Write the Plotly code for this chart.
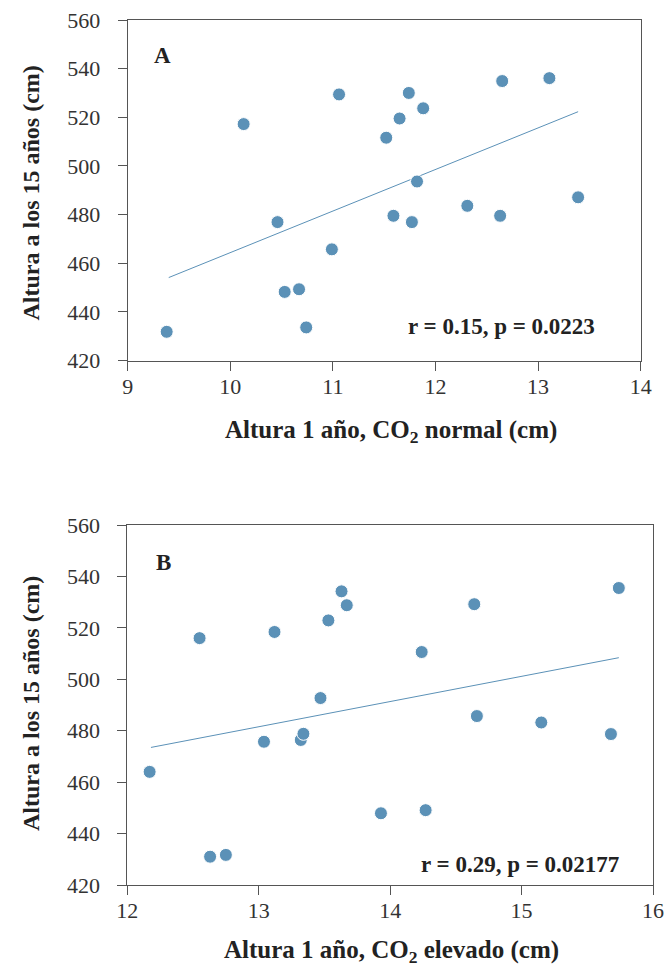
import plotly.graph_objects as go

# Panel A: CO2 normal
a_x = [9.38, 10.13, 10.46, 10.53, 10.67, 10.74, 10.99, 11.06, 11.52, 11.59,
       11.65, 11.74, 11.77, 11.82, 11.88, 12.31, 12.63, 12.65, 13.11, 13.39]
a_y = [431.8, 517.2, 476.9, 448.2, 449.3, 433.6, 465.7, 529.4, 511.6, 479.5,
       519.5, 530.0, 476.9, 493.6, 523.7, 483.6, 479.5, 534.9, 536.1, 487.1]
a_fit_x = [9.40, 13.39]
a_fit_y = [454.1, 522.3]

# Panel B: CO2 elevado
b_x = [12.17, 12.55, 12.63, 12.75, 13.04, 13.12, 13.32, 13.34, 13.47, 13.53,
       13.63, 13.67, 13.93, 14.24, 14.27, 14.64, 14.66, 15.15, 15.68, 15.74]
b_y = [464.0, 516.0, 431.0, 431.7, 475.7, 518.4, 476.4, 478.8, 492.7, 522.9,
       534.2, 528.8, 447.9, 510.6, 449.1, 529.2, 485.7, 483.2, 478.7, 535.5]
b_fit_x = [12.18, 15.74]
b_fit_y = [473.5, 508.4]

y_ticks = [420, 440, 460, 480, 500, 520, 540, 560]
a_xticks = [9, 10, 11, 12, 13, 14]
b_xticks = [12, 13, 14, 15, 16]

labels = ["A", "B"]
stats = ["r = 0.15, p = 0.0223", "r = 0.29, p = 0.02177"]
x_titles = ["Altura 1 año, CO<sub>2</sub> normal (cm)", "Altura 1 año, CO<sub>2</sub> elevado (cm)"]
y_title = "Altura a los 15 años (cm)"

W, H = 670, 968
dot = "#5b91b7"
axc = "#555555"
serif = "Liberation Serif, Times New Roman, serif"

fig = go.Figure()
fig.add_trace(go.Scatter(x=a_fit_x, y=a_fit_y, mode="lines", line=dict(color=dot, width=1),
                         xaxis="x", yaxis="y", showlegend=False, hoverinfo="skip"))
fig.add_trace(go.Scatter(x=a_x, y=a_y, mode="markers",
                         marker=dict(color=dot, size=13, line=dict(color="white", width=1)),
                         xaxis="x", yaxis="y", showlegend=False))
fig.add_trace(go.Scatter(x=b_fit_x, y=b_fit_y, mode="lines", line=dict(color=dot, width=1),
                         xaxis="x2", yaxis="y2", showlegend=False, hoverinfo="skip"))
fig.add_trace(go.Scatter(x=b_x, y=b_y, mode="markers",
                         marker=dict(color=dot, size=13, line=dict(color="white", width=1)),
                         xaxis="x2", yaxis="y2", showlegend=False))

ax_common = dict(showgrid=False, zeroline=False, showline=True, linecolor=axc, linewidth=1,
                 mirror=True, ticks="outside", ticklen=9, tickcolor=axc, tickwidth=1,
                 automargin=False, ticklabeloverflow="allow",
                 tickfont=dict(family=serif, size=22, color="#333333"))

# pixel geometry of the plot areas
A = dict(l=127.7, r=640.7, t=20, b=360.5)
B = dict(l=127.3, r=653.0, t=525, b=885)

def xdom(p):
    return [p["l"] / W, p["r"] / W]

def ydom(p):
    return [1 - p["b"] / H, 1 - p["t"] / H]

fig.update_layout(
    width=W, height=H, margin=dict(l=0, r=0, t=0, b=0, autoexpand=False),
    plot_bgcolor="white", paper_bgcolor="white",
    xaxis=dict(domain=xdom(A), range=[9, 14], tickvals=a_xticks, anchor="y",
               ticklabelstandoff=-3, **ax_common),
    yaxis=dict(domain=ydom(A), range=[420, 560], tickvals=y_ticks, anchor="x",
               ticklabelstandoff=13, **ax_common),
    xaxis2=dict(domain=xdom(B), range=[12, 16], tickvals=b_xticks, anchor="y2",
                ticklabelstandoff=-3, **ax_common),
    yaxis2=dict(domain=ydom(B), range=[420, 560], tickvals=y_ticks, anchor="x2",
                ticklabelstandoff=13, **ax_common),
)

anns = []
for i, (p, xr, yr) in enumerate([(A, "x domain", "y domain"), (B, "x2 domain", "y2 domain")]):
    anns.append(dict(text="<b>%s</b>" % labels[i], xref=xr, yref=yr, x=0.068, y=0.895,
                     xanchor="center", yanchor="middle",
                     showarrow=False, font=dict(family=serif, size=23, color="#222222")))
    sx = 0.915 if i == 0 else 0.939
    sy = 0.099 if i == 0 else 0.058
    anns.append(dict(text="<b>%s</b>" % stats[i], xref=xr, yref=yr, x=sx, y=sy,
                     xanchor="right", yanchor="middle", showarrow=False,
                     font=dict(family=serif, size=23, color="#222222")))
    ty = 431 if i == 0 else 951
    anns.append(dict(text="<b>%s</b>" % x_titles[i], xref="paper", yref="paper",
                     x=391 / W, y=1 - ty / H, xanchor="center", yanchor="middle", showarrow=False,
                     font=dict(family=serif, size=25, color="#222222")))
    cyp = 193.5 if i == 0 else 704
    anns.append(dict(text="<b>%s</b>" % y_title, xref="paper", yref="paper",
                     x=31 / W, y=1 - cyp / H, textangle=-90,
                     xanchor="center", yanchor="middle", showarrow=False,
                     font=dict(family=serif, size=24, color="#222222")))
fig.update_layout(annotations=anns)

fig.write_html("out.html", config={"displayModeBar": False},
               post_script="document.body.style.margin='0';")
